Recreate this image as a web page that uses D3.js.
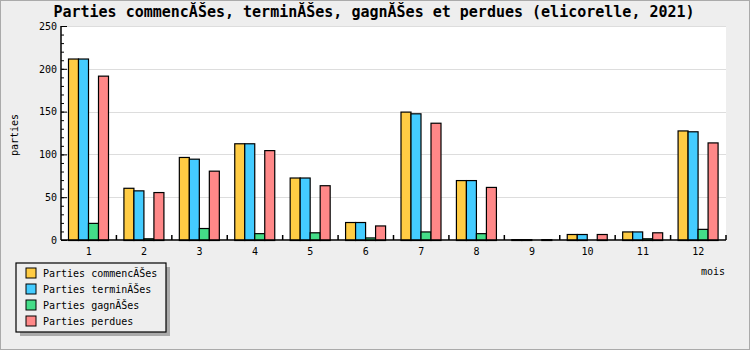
<!DOCTYPE html>
<html>
<head>
<meta charset="utf-8">
<script src="https://cdn.jsdelivr.net/npm/d3@7"></script>
<style>
  body { margin: 0; background: #eeeeee; }
  svg { display: block; font-family: "DejaVu Sans Mono", monospace; }
</style>
</head>
<body>
<div id="chart"></div>
<script>
var months = ["1", "2", "3", "4", "5", "6", "7", "8", "9", "10", "11", "12"];
var seriesNames = ["Parties commencĂŠes", "Parties terminĂŠes", "Parties gagnĂŠes", "Parties perdues"];
var commencees = [212, 61, 97, 113, 73, 21, 150, 70, 1, 7, 10, 128];
var terminees  = [212, 58, 95, 113, 73, 21, 148, 70, 1, 7, 10, 127];
var gagnees    = [20, 2, 14, 8, 9, 3, 10, 8, 0, 0, 2, 13];
var perdues    = [192, 56, 81, 105, 64, 17, 137, 62, 1, 7, 9, 114];
var yTicks = [0, 50, 100, 150, 200, 250];
var colors = ["#ffcc44", "#44ccff", "#44dd88", "#ff8888"];

var allSeries = [commencees, terminees, gagnees, perdues];

var width = 750, height = 350,
    plotL = 61, plotR = 726, plotT = 26, plotB = 240;

var svg = d3.select("#chart").append("svg")
    .attr("width", width)
    .attr("height", height);

// fond + cadre
svg.append("rect")
    .attr("x", 0.5).attr("y", 0.5)
    .attr("width", width - 1).attr("height", height - 1)
    .attr("fill", "#eeeeee")
    .attr("stroke", "#aaaaaa");

svg.append("rect")
    .attr("x", plotL).attr("y", plotT)
    .attr("width", plotR - plotL).attr("height", plotB - plotT)
    .attr("fill", "#ffffff");

var x = d3.scaleBand().domain(months).range([plotL, plotR]);
var x1 = d3.scaleBand().domain(d3.range(4)).range([7, 47]);
var y = d3.scaleLinear().domain([0, 250]).range([plotB, plotT]);

// grille
svg.append("g").selectAll("line")
    .data(yTicks.slice(1))
    .enter().append("line")
    .attr("x1", plotL).attr("x2", plotR)
    .attr("y1", function (d) { return Math.round(y(d)) + 0.5; })
    .attr("y2", function (d) { return Math.round(y(d)) + 0.5; })
    .attr("stroke", "#dddddd");

// barres
var groups = svg.append("g").selectAll("g")
    .data(months)
    .enter().append("g")
    .attr("transform", function (d) { return "translate(" + x(d) + ",0)"; });

groups.selectAll("rect")
    .data(function (m, i) { return allSeries.map(function (s, k) { return { k: k, v: s[i] }; }); })
    .enter().filter(function (d) { return d.v > 0; }).append("rect")
    .attr("x", function (d) { return x1(d.k) + 0.5; })
    .attr("y", function (d) { return y(d.v) + 0.5; })
    .attr("width", x1.bandwidth())
    .attr("height", function (d) { return plotB - y(d.v); })
    .attr("fill", function (d) { return colors[d.k]; })
    .attr("stroke", "#000")
    .attr("stroke-width", 1.2);

// axe y
var yMinor = d3.axisLeft(y).tickValues(d3.range(0, 251, 10)).tickSize(-3).tickFormat("");
svg.append("g").attr("transform", "translate(" + plotL + ",0)").call(yMinor)
    .call(function (g) { g.select(".domain").remove(); });

var yAxis = d3.axisLeft(y).tickValues(yTicks).tickSize(-6).tickPadding(4);
var gy = svg.append("g").attr("transform", "translate(" + plotL + ",0)").call(yAxis);
gy.select(".domain").attr("stroke-width", 1.5).attr("d", "M0," + plotT + "V" + plotB);
gy.selectAll("text").attr("font-size", 10).attr("fill", "#000").attr("font-family", "DejaVu Sans Mono");

// axe x
var xAxis = d3.axisBottom(x).tickSize(0).tickPadding(8);
var gx = svg.append("g").attr("transform", "translate(0," + plotB + ")").call(xAxis);
gx.select(".domain").attr("stroke-width", 1.5).attr("d", "M" + plotL + ",0H" + plotR);
gx.selectAll("text").attr("font-size", 10).attr("fill", "#000").attr("font-family", "DejaVu Sans Mono");

var bounds = months.slice(1).map(function (m) { return x(m); }).concat([plotR]);
svg.append("g").selectAll("line")
    .data(bounds)
    .enter().append("line")
    .attr("x1", function (d) { return d; }).attr("x2", function (d) { return d; })
    .attr("y1", plotB - 5).attr("y2", plotB)
    .attr("stroke", "#000")
    .attr("stroke-width", 1.5);

// titres
svg.append("text")
    .attr("x", 374).attr("y", 17)
    .attr("text-anchor", "middle")
    .attr("font-size", 15)
    .attr("font-weight", "bold")
    .text("Parties commencĂŠes, terminĂŠes, gagnĂŠes et perdues (elicorelle, 2021)");

svg.append("text")
    .attr("transform", "translate(18,135) rotate(-90)")
    .attr("text-anchor", "middle")
    .attr("font-size", 10)
    .text("parties");

svg.append("text")
    .attr("x", 725).attr("y", 275)
    .attr("text-anchor", "end")
    .attr("font-size", 10)
    .text("mois");

// légende
var lg = svg.append("g");
lg.append("rect")
    .attr("x", 20).attr("y", 267).attr("width", 150).attr("height", 69)
    .attr("fill", "#aaaaaa");
lg.append("rect")
    .attr("x", 16).attr("y", 263).attr("width", 150).attr("height", 69)
    .attr("fill", "#eeeeee").attr("stroke", "#000").attr("stroke-width", 1.2);

var items = lg.selectAll("g.item")
    .data(seriesNames)
    .enter().append("g")
    .attr("class", "item")
    .attr("transform", function (d, i) { return "translate(0," + (273 + i * 16) + ")"; });

items.append("rect")
    .attr("x", 26).attr("y", -5).attr("width", 10).attr("height", 10)
    .attr("fill", function (d, i) { return colors[i]; })
    .attr("stroke", "#000");

items.append("text")
    .attr("x", 43).attr("y", 4)
    .attr("font-size", 10)
    .text(function (d) { return d; });
</script>
</body>
</html>
